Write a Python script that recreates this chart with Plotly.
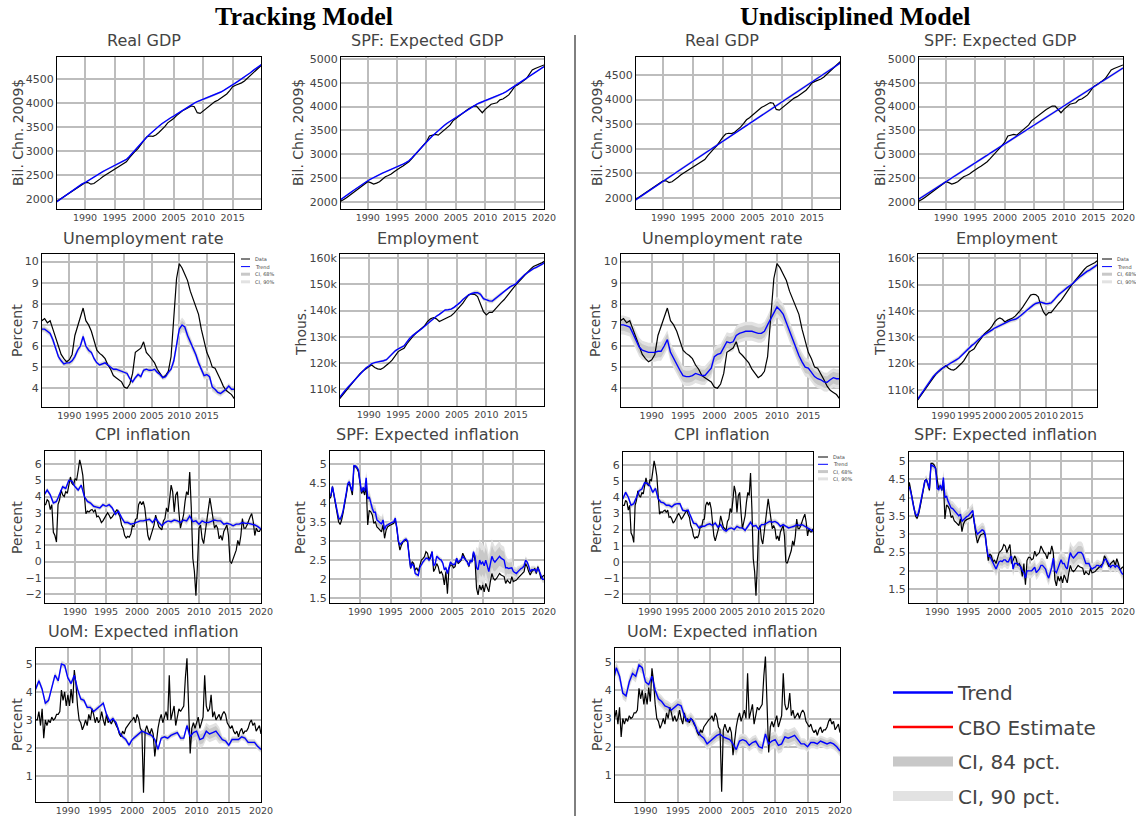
import numpy as np
import plotly.graph_objects as go

W, H = 1136, 816
START_YEAR = 1985.0
HALF, QUARTER = 0.5, 0.25

# ======================= DATA (one row per year, 1985 ... 2020) =======================
# ---- Real GDP, Bil. Chn. 2009$ (semiannual) ----
gdp_data = [
    1940, 1980, 2020, 2060, 2100, 2140, 2185, 2230, 2275, 2315,   # 1985-89
    2346, 2350, 2315, 2330, 2367, 2420, 2470, 2510, 2550, 2590,   # 1990-94
    2630, 2670, 2710, 2745, 2780, 2860, 2940, 3000, 3060, 3150,   # 1995-99
    3230, 3300, 3316, 3310, 3336, 3390, 3440, 3510, 3590, 3630,   # 2000-04
    3680, 3740, 3800, 3840, 3870, 3910, 3940, 3925, 3800, 3786,   # 2005-09
    3835, 3890, 3940, 3985, 4030, 4060, 4100, 4150, 4190, 4260,   # 2010-14
    4340, 4370, 4390, 4420, 4460, 4520, 4580, 4640, 4690, 4745,   # 2015-19
    4800]
gdp_trend_tracking = [
    1930, 1975, 2020, 2065, 2110, 2150, 2195, 2240, 2280, 2320,
    2350, 2390, 2430, 2470, 2505, 2540, 2575, 2610, 2640, 2670,
    2700, 2730, 2760, 2790, 2830, 2890, 2960, 3040, 3110, 3180,
    3240, 3300, 3360, 3420, 3470, 3520, 3570, 3615, 3655, 3695,
    3730, 3770, 3810, 3850, 3890, 3930, 3965, 4000, 4030, 4055,
    4075, 4095, 4115, 4140, 4165, 4195, 4230, 4265, 4300, 4340,
    4380, 4420, 4460, 4500, 4540, 4585, 4630, 4680, 4720, 4770,
    4810]
gdp_trend_undisc = [
    1930, 1972, 2013, 2054, 2095, 2136, 2178, 2220, 2262, 2304,
    2345, 2386, 2426, 2466, 2506, 2546, 2586, 2626, 2666, 2706,
    2746, 2786, 2826, 2866, 2907, 2948, 2990, 3032, 3074, 3116,
    3158, 3199, 3240, 3281, 3322, 3362, 3402, 3442, 3482, 3522,
    3562, 3602, 3642, 3682, 3722, 3762, 3802, 3842, 3880, 3918,
    3955, 3992, 4030, 4068, 4106, 4145, 4185, 4225, 4266, 4307,
    4348, 4390, 4432, 4474, 4516, 4558, 4600, 4642, 4684, 4726,
    4768]

# ---- SPF: Expected GDP (semiannual) ----
spf_gdp_data = [
    1985, 2010, 2050, 2095, 2140, 2190, 2245, 2290, 2330, 2375,
    2420, 2400, 2370, 2390, 2420, 2470, 2525, 2550, 2580, 2630,
    2680, 2715, 2750, 2795, 2840, 2905, 2980, 3045, 3110, 3180,
    3260, 3380, 3400, 3415, 3400, 3450, 3505, 3555, 3610, 3700,
    3750, 3805, 3860, 3900, 3940, 3975, 4010, 4010, 3930, 3870,
    3940, 3995, 4050, 4065, 4080, 4140, 4160, 4200, 4245, 4330,
    4420, 4455, 4490, 4540, 4590, 4670, 4770, 4800, 4825, 4850,
    4875]
spf_gdp_trend_tracking = [
    2010, 2050, 2095, 2140, 2185, 2230, 2275, 2320, 2360, 2400,
    2440, 2475, 2510, 2545, 2575, 2600, 2625, 2650, 2675, 2700,
    2725, 2755, 2790, 2820, 2860, 2920, 2990, 3060, 3130, 3190,
    3250, 3320, 3380, 3440, 3500, 3550, 3600, 3650, 3690, 3730,
    3770, 3815, 3860, 3900, 3940, 3975, 4010, 4045, 4075, 4100,
    4120, 4140, 4160, 4185, 4210, 4240, 4275, 4310, 4350, 4390,
    4430, 4470, 4510, 4550, 4590, 4630, 4670, 4715, 4760, 4800,
    4840]
spf_gdp_trend_undisc = [
    2020, 2060, 2100, 2141, 2181, 2221, 2262, 2302, 2342, 2382,
    2422, 2462, 2502, 2542, 2582, 2622, 2661, 2700, 2740, 2780,
    2820, 2860, 2900, 2940, 2980, 3020, 3060, 3100, 3140, 3180,
    3220, 3260, 3300, 3340, 3380, 3420, 3460, 3500, 3540, 3580,
    3620, 3660, 3700, 3740, 3780, 3820, 3860, 3900, 3940, 3978,
    4016, 4055, 4094, 4133, 4172, 4211, 4250, 4290, 4330, 4370,
    4410, 4450, 4490, 4530, 4570, 4610, 4650, 4690, 4730, 4770,
    4810]

# ---- Unemployment rate, percent (semiannual) ----
unemp_data = [
    7.2, 7.3, 7.1, 7.2, 6.8, 6.4, 5.9, 5.6, 5.4, 5.25,
    5.35, 5.6, 6.5, 6.9, 7.3, 7.8, 7.2, 7.0, 6.7, 6.3,
    5.8, 5.65, 5.55, 5.4, 5.1, 4.9, 4.6, 4.5, 4.4, 4.3,
    4.05, 4.0, 4.2, 4.7, 5.7, 5.8, 5.9, 6.2, 5.7, 5.55,
    5.4, 5.2, 4.9, 4.7, 4.5, 4.6, 4.8, 5.5, 7.3, 9.2,
    9.9, 9.7, 9.4, 9.1, 8.6, 8.2, 7.9, 7.5, 6.8, 6.2,
    5.7, 5.4, 5.0, 4.95, 4.7, 4.4, 4.1, 3.9, 3.8, 3.7,
    3.5]
unemp_trend_tracking = [
    6.8, 6.8, 6.7, 6.6, 6.3, 5.9, 5.5, 5.3, 5.15, 5.2,
    5.2, 5.3, 5.5, 5.8, 6.0, 6.45, 6.0, 5.8, 5.7, 5.4,
    5.2, 5.1, 5.15, 5.2, 5.1, 5.0, 4.9, 4.9, 4.85, 4.8,
    4.75, 4.7, 4.45, 4.3, 4.5, 4.65, 4.55, 4.85, 4.9, 4.85,
    4.85, 4.9, 4.75, 4.65, 4.5, 4.55, 4.75, 4.9, 5.3, 6.0,
    6.8, 7.0, 6.9, 6.5, 6.2, 5.9, 5.6, 5.2, 4.9, 4.6,
    4.65, 4.55, 4.05, 3.95, 3.8, 3.75, 3.85, 3.95, 4.1, 3.95,
    3.95]
unemp_trend_undisc = [
    7.0, 7.0, 6.95, 6.9, 6.6, 6.3, 5.95, 5.8, 5.75, 5.7,
    5.7, 5.7, 5.75, 5.75, 6.0, 6.3, 5.7, 5.4, 5.1, 4.85,
    4.6, 4.55, 4.55, 4.6, 4.7, 4.65, 4.6, 4.6, 4.8, 4.95,
    5.5, 5.6, 5.65, 5.9, 6.2, 6.15, 6.2, 6.5, 6.6, 6.65,
    6.7, 6.7, 6.7, 6.65, 6.6, 6.6, 6.7, 7.0, 7.3, 7.6,
    7.85, 7.7, 7.5, 7.1, 6.7, 6.3, 5.9, 5.55, 5.25, 5.0,
    4.95, 4.75, 4.55, 4.45, 4.4, 4.3, 4.28, 4.4, 4.5, 4.45,
    4.45]

# ---- Employment, thousands (semiannual) ----
emp_data = [
    106200, 107600, 109000, 110400, 111800, 113300, 114700, 115900, 116900, 117800,
    118500, 119200, 118200, 117700, 117500, 118100, 118900, 120000, 121100, 122800,
    124300, 125000, 125600, 127300, 128800, 130100, 131300, 132200, 133000, 134200,
    135800, 136800, 137300, 136800, 135800, 136400, 136800, 137300, 138000, 139000,
    140200, 141500, 142800, 144500, 146000, 146300, 146200, 145300, 142100, 139600,
    138300, 139300, 139300, 140600, 142100, 143000, 144100, 145600, 147200, 148500,
    149800, 151000, 152300, 153500, 154600, 155800, 156800, 157200, 157700, 158300,
    159000]
emp_trend_tracking = [
    106700, 108300, 109500, 110800, 112000, 113500, 114800, 116000, 117000, 118000,
    118800, 119700, 120100, 120300, 120500, 120800, 121200, 122400, 123500, 124600,
    125300, 125800, 126500, 128000, 129500, 130500, 131500, 132200, 133000, 134000,
    135000, 136000, 137000, 137800, 138500, 139500, 140200, 140300, 140500, 141200,
    142000, 143000, 144200, 145200, 146000, 146500, 146800, 146800, 146200, 144500,
    144000, 143700, 143600, 144500, 145500, 146300, 147200, 148100, 149000, 149600,
    150200, 151500, 152800, 153700, 154500, 155300, 156000, 156500, 157000, 157700,
    158500]
emp_trend_undisc = [
    106500, 108000, 109500, 111000, 112500, 113800, 115000, 116000, 117000, 117800,
    118500, 119000, 119500, 120200, 120800, 121400, 122000, 123000, 124000, 125000,
    126000, 126800, 127500, 128500, 129500, 130300, 131000, 131500, 132000, 132800,
    133500, 134000, 134500, 135000, 135500, 135900, 136300, 136600, 136800, 137300,
    138000, 138900, 139800, 140700, 141500, 142200, 142800, 143100, 143300, 143000,
    142700, 142800, 143000, 144000, 145300, 146200, 147000, 147900, 148800, 149400,
    150000, 151000, 152000, 152800, 153500, 154300, 155000, 155500, 156000, 156800,
    157500]

# ---- CPI inflation, percent (data quarterly, trends semiannual) ----
cpi_data = [
    3.5, 3.5, 3.8, 3.7,   3.2, 3.5, 1.8, 1.6,   1.2, 3.5, 3.8, 4.4,   4.1, 4.0, 4.3, 4.2,   4.7, 5.2, 4.8, 4.7,
    5.1, 5.0, 5.6, 6.25,  5.85, 5.3, 4.1, 2.95, 3.1, 3.05, 3.15, 3.2, 3.05, 3.2, 2.75, 2.8, 2.65, 2.4, 2.5, 2.7,
    2.85, 3.0, 2.85, 2.65, 2.75, 2.9, 3.05, 3.2, 2.95, 2.75, 2.25, 2.05, 1.6, 1.45, 1.55, 1.5, 1.7, 2.2, 2.15, 2.6,
    2.65, 3.5, 3.7, 3.5,  3.7, 3.3, 2.45, 1.6,  1.3, 1.6, 1.95, 2.25, 2.85, 2.45, 2.15, 2.05, 1.95, 2.5, 2.65, 3.3,
    3.05, 3.8, 4.7, 4.3,  3.05, 4.1, 4.3, 3.05, 2.05, 2.45, 2.85, 3.7, 4.3, 4.1, 5.5, 3.3,  0.2, -0.6, -2.1, -0.2,
    2.05, 2.25, 1.4, 1.1, 1.85, 2.65, 3.5, 3.9, 3.3, 2.65, 2.05, 2.25, 2.05, 1.4, 1.6, 1.3, 1.85, 2.05, 2.25, 1.6,
    0.0, -0.1, 0.2, 0.4,  0.7, 1.3, 1.0, 1.6,   2.65, 2.05, 2.05, 2.25, 2.55, 2.75, 2.95, 2.45, 1.6, 2.05, 1.85, 1.85,
    2.05]
cpi_trend_tracking = [
    4.1, 4.4, 4.1, 3.6, 3.7, 4.1, 4.6, 4.5, 5.0, 4.95,
    4.6, 4.4, 4.7, 4.0, 3.7, 3.6, 3.4, 3.35, 3.3, 3.5,
    3.4, 3.5, 3.3, 2.9, 3.1, 2.7, 2.4, 2.4, 2.3, 2.35,
    2.45, 2.5, 2.5, 2.55, 2.6, 2.4, 2.65, 2.4, 2.2, 2.4,
    2.5, 2.45, 2.55, 2.5, 2.4, 2.55, 2.5, 2.8, 2.45, 2.5,
    2.3, 2.5, 2.4, 2.4, 2.5, 2.55, 2.5, 2.5, 2.3, 2.35,
    2.3, 2.2, 2.3, 2.3, 2.4, 2.35, 2.35, 2.3, 2.25, 2.15,
    2.0]
cpi_trend_undisc = [
    3.9, 4.3, 4.0, 3.5, 3.6, 4.0, 4.4, 4.5, 4.9, 4.85,
    4.7, 4.3, 4.55, 3.9, 3.7, 3.65, 3.5, 3.5, 3.4, 3.55,
    3.6, 3.6, 3.2, 3.15, 3.2, 2.8, 2.4, 2.35, 2.1, 2.2,
    2.2, 2.3, 2.35, 2.25, 2.4, 2.15, 2.3, 2.0, 1.9, 2.05,
    2.1, 2.0, 2.2, 2.1, 2.1, 1.95, 2.2, 2.45, 2.2, 2.25,
    2.0, 2.3, 2.3, 2.4, 2.5, 2.45, 2.5, 2.4, 2.2, 2.3,
    2.2, 2.1, 2.15, 2.2, 2.3, 2.25, 2.3, 2.2, 2.15, 2.05,
    1.9]

# ---- SPF: Expected inflation, percent (quarterly) ----
spf_inf_data = [
    4.1, 4.15, 4.42, 4.2,  3.94, 3.7, 3.5, 3.43,  3.55, 3.75, 3.94, 4.2,  4.46, 4.5, 4.37, 4.2,  4.94, 4.94, 4.9, 4.8,
    4.5, 4.24, 4.33, 4.2,  4.46, 3.42, 3.8, 3.76, 3.68, 3.46, 3.5, 3.37, 3.33, 3.28, 3.24, 3.42, 3.07, 3.28, 3.37, 3.4,
    3.42, 3.45, 3.46, 3.55, 3.33, 2.98, 2.76, 2.89, 2.98, 3.0, 3.02, 2.98, 2.59, 2.28, 2.46, 2.41, 2.24, 2.3, 2.2, 2.33,
    2.5, 2.54, 2.59, 2.72, 2.68, 2.5, 2.59, 2.72, 2.2, 2.28, 2.41, 2.33, 2.15, 2.2, 2.11, 1.85, 2.2, 1.62, 2.28, 2.37,
    2.37, 2.3, 2.33, 2.54, 2.41, 2.45, 2.5, 2.68, 2.59, 2.5, 2.46, 2.33, 2.5, 2.46, 2.68, 2.5,  1.76, 1.59, 1.85, 1.72,
    1.85, 1.67, 1.89, 1.76, 1.67, 1.94, 2.15, 2.02, 1.98, 2.02, 2.07, 2.15, 2.11, 2.09, 2.07, 1.89, 1.98, 1.93, 1.89, 2.07,
    1.94, 1.96, 1.98, 2.03, 2.07, 2.1, 2.15, 2.2,  2.41, 2.33, 2.2, 2.11,  2.2, 2.24, 2.28, 2.15, 2.33, 2.2, 2.02, 2.07,
    2.11]
spf_inf_trend_tracking = [
    4.15, 4.2, 4.42, 4.25, 4.0, 3.8, 3.6, 3.57,  3.65, 3.8, 4.0, 4.25,  4.5, 4.55, 4.4, 4.3,  4.97, 4.96, 4.92, 4.85,
    4.55, 4.28, 4.4, 4.3,  4.65, 4.1, 4.15, 3.95, 3.85, 3.75, 3.75, 3.55, 3.5, 3.48, 3.45, 3.55, 3.3, 3.4, 3.42, 3.45,
    3.48, 3.49, 3.5, 3.6,  3.35, 3.0, 2.9, 2.95,  3.0, 3.03, 3.05, 3.0,  2.6, 2.3, 2.4, 2.35,  2.15, 2.12, 2.1, 2.3,
    2.4, 2.45, 2.5, 2.55,  2.55, 2.5, 2.55, 2.72, 2.35, 2.4, 2.6, 2.55,  2.52, 2.5, 2.42, 2.25, 2.3, 2.15, 2.35, 2.45,
    2.4, 2.38, 2.4, 2.55,  2.45, 2.48, 2.52, 2.6, 2.55, 2.5, 2.45, 2.35,  2.5, 2.45, 2.72, 2.6,  2.3, 2.25, 2.5, 2.4,
    2.45, 2.35, 2.5, 2.35, 2.2, 2.4, 2.6, 2.5,   2.45, 2.5, 2.55, 2.6,   2.55, 2.52, 2.5, 2.3,  2.3, 2.28, 2.3, 2.3,
    2.2, 2.18, 2.15, 2.2,  2.25, 2.28, 2.3, 2.35, 2.5, 2.45, 2.35, 2.2,  2.25, 2.25, 2.25, 2.2, 2.3, 2.2, 2.1, 2.0,
    2.0]
spf_inf_trend_undisc = [
    4.1, 4.2, 4.3, 4.15,   3.9, 3.7, 3.55, 3.5,  3.6, 3.8, 4.0, 4.2,   4.45, 4.5, 4.35, 4.25, 4.9, 4.88, 4.85, 4.8,
    4.25, 4.22, 4.35, 4.2, 4.55, 4.0, 4.05, 3.9, 3.8, 3.72, 3.7, 3.65,  3.6, 3.55, 3.5, 3.55, 3.35, 3.4, 3.45, 3.48,
    3.5, 3.55, 3.6, 3.65,  3.3, 3.1, 3.0, 3.05,  3.1, 3.12, 3.1, 3.0,   2.6, 2.4, 2.4, 2.3,   2.2, 2.15, 2.05, 2.15,
    2.25, 2.27, 2.25, 2.3, 2.3, 2.25, 2.25, 2.35, 2.4, 2.05, 2.2, 2.2,  2.2, 2.15, 2.1, 2.0,  1.95, 1.8, 2.0, 2.0,
    2.0, 2.0, 2.05, 2.1,   1.95, 2.0, 2.05, 2.15, 2.15, 2.1, 2.05, 1.9,  1.8, 1.95, 2.1, 2.35, 2.0, 1.95, 2.05, 2.15,
    2.3, 2.2, 2.2, 2.1,    2.05, 2.3, 2.5, 2.4,  2.35, 2.4, 2.45, 2.5,  2.5, 2.5, 2.45, 2.3,  2.2, 2.2, 2.2, 2.1,
    2.05, 2.08, 2.1, 2.15, 2.15, 2.12, 2.1, 2.2, 2.3, 2.32, 2.25, 2.15, 2.1, 2.15, 2.15, 2.1, 2.15, 2.1, 2.05, 1.95,
    1.9]

# ---- UoM: Expected inflation, percent (data quarterly, trends semiannual) ----
uom_data = [
    3.0, 3.0, 3.3, 2.8,  3.4, 2.35, 3.0, 2.8,  3.0, 2.9, 3.1, 3.0,  3.05, 3.2, 3.2, 3.3,  4.07, 3.7, 4.0, 3.5,
    3.9, 3.5, 4.1, 3.6,  4.78, 4.3, 3.5, 3.0,  2.9, 2.65, 2.8, 3.0, 2.8, 3.2, 3.0, 3.4,  3.2, 2.9, 3.1, 2.9,
    3.0, 3.3, 3.0, 2.8,  3.2, 2.9, 3.0, 2.85,  3.0, 2.95, 2.8, 2.7, 2.5, 2.4, 2.6, 2.5,  2.7, 2.8, 2.85, 2.95,
    3.0, 3.1, 2.9, 3.2,  3.05, 2.7, 2.6, 0.4,  2.6, 2.8, 2.6, 2.5,  2.7, 2.5, 1.7, 2.3,  2.7, 3.0, 3.2, 2.9,
    3.1, 3.3, 3.0, 4.6,  3.0, 3.3, 3.5, 2.8,   3.1, 3.4, 3.3, 3.4,  3.5, 4.5, 5.2, 3.5,  1.8, 2.7, 2.9, 2.7,
    2.9, 3.1, 2.7, 2.9,  3.1, 4.6, 3.5, 3.3,   3.4, 3.9, 3.1, 3.3,  3.0, 3.1, 3.2, 3.0,  3.2, 3.3, 3.2, 2.9,
    2.8, 2.7, 2.8, 2.6,  2.5, 2.6, 2.4, 2.6,   2.7, 2.5, 2.6, 2.6,  2.7, 2.9, 3.0, 2.8,  2.9, 2.6, 2.7, 2.8,
    2.5]
uom_trend_tracking = [
    4.1, 4.4, 4.1, 3.6, 3.7, 4.2, 4.6, 4.4, 5.0, 4.95,
    4.5, 4.3, 4.6, 4.1, 3.75, 3.7, 3.45, 3.45, 3.3, 3.4,
    3.5, 3.6, 3.2, 2.95, 3.05, 2.9, 2.55, 2.4, 2.3, 2.1,
    2.3, 2.4, 2.5, 2.6, 2.55, 2.5, 2.45, 2.3, 1.95, 2.35,
    2.4, 2.35, 2.45, 2.5, 2.55, 2.35, 2.35, 2.8, 2.4, 2.55,
    2.6, 2.3, 2.35, 2.6, 2.5, 2.55, 2.6, 2.45, 2.3, 2.25,
    2.1, 2.3, 2.3, 2.3, 2.4, 2.35, 2.2, 2.2, 2.2, 2.05,
    1.95]
uom_trend_undisc = [
    4.3, 4.8, 4.5, 3.9, 3.8, 4.3, 4.6, 4.5, 4.9, 4.8,
    4.3, 4.2, 4.5, 4.0, 3.7, 3.6, 3.45, 3.4, 3.3, 3.4,
    3.5, 3.45, 3.1, 2.9, 3.0, 2.85, 2.55, 2.4, 2.3, 2.1,
    2.2, 2.3, 2.4, 2.45, 2.35, 2.3, 2.25, 2.1, 1.9, 2.2,
    2.25, 2.2, 2.05, 2.15, 2.2, 2.0, 1.95, 2.45, 2.1, 2.2,
    2.25, 2.05, 2.1, 2.35, 2.3, 2.35, 2.4, 2.25, 2.1, 2.1,
    2.0, 2.15, 2.15, 2.1, 2.2, 2.15, 2.1, 2.15, 2.1, 2.0,
    1.85]

# ---- credible-band half-widths, one reading per year 1985..2020 (outer = 90 pct, inner) ----
gdp_T_w90 = [15] * 36
gdp_T_w68 = [8] * 36
gdp_U_w90 = [30] * 36
gdp_U_w68 = [18] * 36
un_T_w90 = [0.15] * 6 + [0.18] * 3 + [0.12] * 15 + [0.25, 0.35, 0.3, 0.25] + [0.2] * 4 + [0.15] * 4
un_T_w68 = [0.09] * 6 + [0.1] * 3 + [0.07] * 15 + [0.15, 0.2, 0.18, 0.15] + [0.12] * 4 + [0.09] * 4
un_U_w90 = [0.45] * 24 + [0.5] * 4 + [0.45] * 8
un_U_w68 = [0.28] * 24 + [0.3] * 4 + [0.28] * 8
emp_T_w90 = [500] * 23 + [900] * 5 + [500] * 8
emp_T_w68 = [300] * 23 + [550] * 5 + [300] * 8
emp_U_w90 = [900] * 36
emp_U_w68 = [500] * 36
cpi_T_w90 = [0.15] * 23 + [0.25] * 6 + [0.15] * 7
cpi_T_w68 = [0.09] * 23 + [0.15] * 6 + [0.09] * 7
cpi_U_w90 = [0.18] * 36
cpi_U_w68 = [0.1] * 36
spfi_T_w90 = [0.08] * 6 + [0.18] * 3 + [0.07] * 15 + [0.55, 0.5, 0.45, 0.4, 0.35, 0.25, 0.15] + [0.1] * 5
spfi_T_w68 = [0.05] * 6 + [0.11] * 3 + [0.04] * 15 + [0.35, 0.32, 0.28, 0.25, 0.22, 0.15, 0.09] + [0.06] * 5
spfi_U_w90 = [0.12] * 6 + [0.2] * 18 + [0.3] * 5 + [0.15] * 7
spfi_U_w68 = [0.07] * 6 + [0.12] * 18 + [0.18] * 5 + [0.09] * 7
uom_T_w90 = [0.12] * 6 + [0.1] * 18 + [0.3] * 5 + [0.12] * 7
uom_T_w68 = [0.07] * 6 + [0.06] * 18 + [0.18] * 5 + [0.07] * 7
uom_U_w90 = [0.22] * 24 + [0.3] * 5 + [0.2] * 7
uom_U_w68 = [0.13] * 24 + [0.18] * 5 + [0.12] * 7

# ---- text ----
main_titles = ["Tracking Model", "Undisciplined Model"]
legend_names = ["Trend", "CBO Estimate", "CI, 84 pct.", "CI, 90 pct."]
small_legend_names = ["Data", "Trend", "CI, 68%", "CI, 90%"]

# ======================= STYLE =======================
C_DATA, C_TREND, C_CBO = "#000000", "#0000ff", "#ff0000"
C_IN, C_OUT = "#c8c8c8", "#e2e2e2"
FONT = "DejaVu Sans"
GREY_TXT = "#444444"


def times(values, step):
    return START_YEAR + step * np.arange(len(values))


def per_obs(widths, step, n):
    return np.repeat(np.asarray(widths, float), int(round(1 / step)))[:n]


# panel specs: plot box in px (left, top, right, bottom)
panels = [
    # ---------------- Tracking model ----------------
    dict(box=(57, 57, 261, 209), xr=[1985.25, 2019.8], yr=[1800, 4957], y0=2000, dy=500,
         data=gdp_data, sd=HALF, trend=gdp_trend_tracking, st=HALF, w90=gdp_T_w90, w68=gdp_T_w68,
         title="Real GDP", tpos=(144, 40), ytitle="Bil. Chn. 2009$", ypos=(18, 133)),
    dict(box=(341, 57, 544, 209), xr=[1985.45, 2020], yr=[1846, 5042], y0=2000, dy=500,
         data=spf_gdp_data, sd=HALF, trend=spf_gdp_trend_tracking, st=HALF, w90=gdp_T_w90, w68=gdp_T_w68,
         title="SPF: Expected GDP", tpos=(427, 40), ytitle="Bil. Chn. 2009$", ypos=(298, 133)),
    dict(box=(42, 254, 234, 407), xr=[1985.02, 2019.95], yr=[3.11, 10.36], y0=4, dy=1,
         data=unemp_data, sd=HALF, trend=unemp_trend_tracking, st=HALF, w90=un_T_w90, w68=un_T_w68,
         title="Unemployment rate", tpos=(143, 238), ytitle="Percent", ypos=(17, 331)),
    dict(box=(340, 254, 544, 406), xr=[1985.1, 2019.8], yr=[103500, 161600], y0=110000, dy=10000,
         data=emp_data, sd=HALF, trend=emp_trend_tracking, st=HALF, w90=emp_T_w90, w68=emp_T_w68,
         title="Employment", tpos=(427, 238), ytitle="Thous.", ypos=(301, 332)),
    dict(box=(45, 451, 261, 603), xr=[1985.15, 2020], yr=[-2.55, 6.8], y0=-2, dy=1,
         data=cpi_data, sd=QUARTER, trend=cpi_trend_tracking, st=HALF, w90=cpi_T_w90, w68=cpi_T_w68,
         title="CPI inflation", tpos=(143, 434), ytitle="Percent", ypos=(17, 528)),
    dict(box=(330, 451, 544, 603), xr=[1985.1, 2020], yr=[1.38, 5.35], y0=1.5, dy=0.5,
         data=spf_inf_data, sd=QUARTER, trend=spf_inf_trend_tracking, st=QUARTER, w90=spfi_T_w90, w68=spfi_T_w68,
         title="SPF: Expected inflation", tpos=(427, 434), ytitle="Percent", ypos=(300, 528)),
    dict(box=(36, 648, 261, 802), xr=[1985.05, 2020], yr=[0.07, 5.57], y0=1, dy=1,
         data=uom_data, sd=QUARTER, trend=uom_trend_tracking, st=HALF, w90=uom_T_w90, w68=uom_T_w68,
         title="UoM: Expected inflation", tpos=(143, 631), ytitle="Percent", ypos=(17, 725)),
    # ---------------- Undisciplined model ----------------
    dict(box=(636, 57, 840, 209), xr=[1985.45, 2019.7], yr=[1776, 4866], y0=2000, dy=500,
         data=gdp_data, sd=HALF, trend=gdp_trend_undisc, st=HALF, w90=gdp_U_w90, w68=gdp_U_w68,
         title="Real GDP", tpos=(722, 40), ytitle="Bil. Chn. 2009$", ypos=(597, 133)),
    dict(box=(919, 57, 1123, 209), xr=[1985.45, 2020], yr=[1846, 5042], y0=2000, dy=500,
         data=spf_gdp_data, sd=HALF, trend=spf_gdp_trend_undisc, st=HALF, w90=gdp_U_w90, w68=gdp_U_w68,
         title="SPF: Expected GDP", tpos=(1000, 40), ytitle="Bil. Chn. 2009$", ypos=(880, 133)),
    dict(box=(621, 254, 839, 407), xr=[1985.1, 2019.9], yr=[3.11, 10.36], y0=4, dy=1,
         data=unemp_data, sd=HALF, trend=unemp_trend_undisc, st=HALF, w90=un_U_w90, w68=un_U_w68,
         title="Unemployment rate", tpos=(722, 238), ytitle="Percent", ypos=(595, 331)),
    dict(box=(918, 254, 1097, 407), xr=[1985.05, 2019.95], yr=[103500, 161600], y0=110000, dy=10000,
         data=emp_data, sd=HALF, trend=emp_trend_undisc, st=HALF, w90=emp_U_w90, w68=emp_U_w68,
         title="Employment", tpos=(1006, 238), ytitle="Thous.", ypos=(880, 332)),
    dict(box=(623, 452, 813, 603), xr=[1985.02, 2020], yr=[-2.55, 6.8], y0=-2, dy=1,
         data=cpi_data, sd=QUARTER, trend=cpi_trend_undisc, st=HALF, w90=cpi_U_w90, w68=cpi_U_w68,
         title="CPI inflation", tpos=(722, 434), ytitle="Percent", ypos=(596, 527)),
    dict(box=(909, 452, 1123, 603), xr=[1985.45, 2020], yr=[1.12, 5.25], y0=1.5, dy=0.5,
         data=spf_inf_data, sd=QUARTER, trend=spf_inf_trend_undisc, st=QUARTER, w90=spfi_U_w90, w68=spfi_U_w68,
         title="SPF: Expected inflation", tpos=(1005, 434), ytitle="Percent", ypos=(879, 528)),
    dict(box=(615, 648, 840, 802), xr=[1985.3, 2020], yr=[0.04, 5.5], y0=1, dy=1,
         data=uom_data, sd=QUARTER, trend=uom_trend_undisc, st=HALF, w90=uom_U_w90, w68=uom_U_w68,
         title="UoM: Expected inflation", tpos=(722, 631), ytitle="Percent", ypos=(597, 725)),
]

# small in-panel legends: (line x0, line x1, text x, y of first row, row step)
small_legends = [(241, 250, 253, 259, 7.6), (1102, 1112, 1115, 259, 7.6), (818, 828, 831, 457, 7.3)]

fig = go.Figure()
annotations, shapes = [], []
layout = dict(width=W, height=H, margin=dict(l=0, r=0, t=0, b=0, pad=0, autoexpand=False),
              paper_bgcolor="white", plot_bgcolor="white",
              font=dict(family=FONT, color=GREY_TXT), hovermode=False)

axis_common = dict(showline=True, linecolor="black", linewidth=1, mirror=True,
                   showgrid=True, gridcolor="#bdbdbd", gridwidth=1.5, zeroline=False,
                   ticks="", fixedrange=True, tickangle=0, automargin=False)


def px(x):
    return x / W


def py(y):
    return 1 - y / H


def label(text, x, y, size, angle=0, xanchor="center", family=FONT, color=GREY_TXT):
    return dict(text=text, x=px(x), y=py(y), xref="paper", yref="paper", showarrow=False,
                xanchor=xanchor, yanchor="middle", textangle=angle,
                font=dict(size=size, family=family, color=color))


for i, p in enumerate(panels, start=1):
    sfx = "" if i == 1 else str(i)
    xref, yref = "x" + sfx, "y" + sfx
    l, t, r, b = p["box"]
    layout["xaxis" + sfx] = dict(axis_common, domain=[px(l), px(r)], anchor=yref, range=p["xr"],
                                 tickmode="linear", tick0=1990, dtick=5,
                                 tickfont=dict(size=9.5, family=FONT, color=GREY_TXT))
    layout["yaxis" + sfx] = dict(axis_common, domain=[py(b), py(t)], anchor=xref, range=p["yr"],
                                 tickmode="linear", tick0=p["y0"], dtick=p["dy"],
                                 tickfont=dict(size=11, family=FONT, color=GREY_TXT))
    tt = times(p["trend"], p["st"])
    tr = np.asarray(p["trend"], float)
    for wl, col in ((p["w90"], C_OUT), (p["w68"], C_IN)):
        w = per_obs(wl, p["st"], len(tr))
        fig.add_trace(go.Scatter(x=np.concatenate([tt, tt[::-1]]),
                                 y=np.concatenate([tr + w, (tr - w)[::-1]]),
                                 fill="toself", fillcolor=col, line=dict(width=0),
                                 mode="lines", showlegend=False, hoverinfo="skip",
                                 xaxis=xref, yaxis=yref))
    fig.add_trace(go.Scatter(x=times(p["data"], p["sd"]), y=p["data"], mode="lines",
                             line=dict(color=C_DATA, width=1.2), showlegend=False,
                             xaxis=xref, yaxis=yref))
    fig.add_trace(go.Scatter(x=tt, y=tr, mode="lines", line=dict(color=C_TREND, width=1.4),
                             showlegend=False, xaxis=xref, yaxis=yref))
    annotations.append(label(p["title"], p["tpos"][0], p["tpos"][1], 16))
    annotations.append(label(p["ytitle"], p["ypos"][0], p["ypos"][1], 14, angle=-90))

# main titles
for txt, cx in zip(main_titles, (304, 855)):
    annotations.append(label("<b>%s</b>" % txt, cx, 16, 26, family="Liberation Serif", color="black"))

# divider between the two models
shapes.append(dict(type="line", xref="paper", yref="paper", x0=px(575), x1=px(575), y0=py(35), y1=0,
                   line=dict(color="black", width=1)))

# small in-panel legends
small_styles = [(C_DATA, 1), (C_TREND, 1), (C_IN, 3), (C_OUT, 3)]
for lx0, lx1, tx, y0, dy in small_legends:
    for k, (name, (col, lw)) in enumerate(zip(small_legend_names, small_styles)):
        yy = y0 + k * dy
        shapes.append(dict(type="line", xref="paper", yref="paper", x0=px(lx0), x1=px(lx1),
                           y0=py(yy), y1=py(yy), line=dict(color=col, width=lw)))
        annotations.append(label(name, tx, yy, 5, xanchor="left"))

# big legend (dummy entries)
leg_styles = [(C_TREND, 2.5), (C_CBO, 2.5), (C_IN, 10), (C_OUT, 10)]
for name, (col, lw) in zip(legend_names, leg_styles):
    fig.add_trace(go.Scatter(x=[None], y=[None], mode="lines", name=name,
                             line=dict(color=col, width=lw), legendgroup=name, showlegend=True))

layout["showlegend"] = True
layout["legend"] = dict(x=px(888), y=py(673), xanchor="left", yanchor="top",
                        font=dict(size=20, family=FONT, color=GREY_TXT),
                        bgcolor="rgba(0,0,0,0)", tracegroupgap=5.5, itemwidth=60)
layout["annotations"] = annotations
layout["shapes"] = shapes
fig.update_layout(**layout)
fig.write_html("out.html", config={"displayModeBar": False},
               post_script="document.body.style.margin='0';document.body.style.overflow='hidden';")
